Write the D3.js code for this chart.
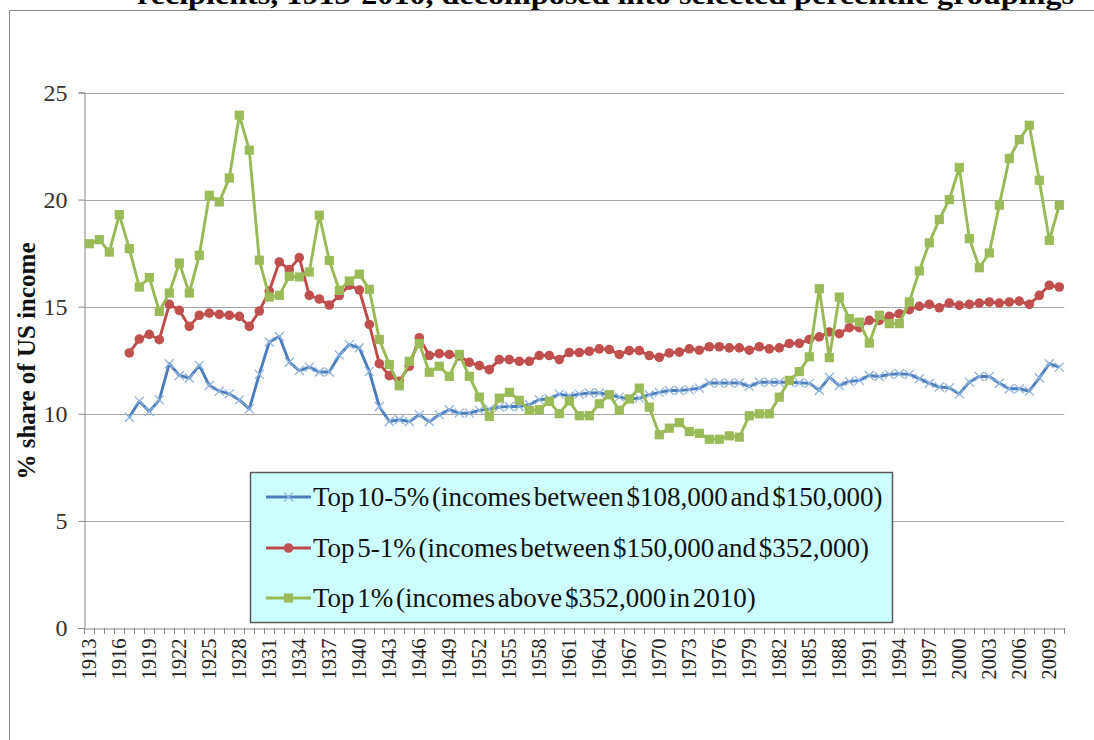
<!DOCTYPE html>
<html><head><meta charset="utf-8">
<script src="https://cdn.jsdelivr.net/npm/d3@7"></script>
<style>
html,body{margin:0;padding:0;background:#fff;overflow:hidden}
svg{display:block}
</style></head>
<body>
<svg id="chart" width="1094" height="740"></svg>
<script>
const years = d3.range(1913, 2011);
const yTicks = [0, 5, 10, 15, 20, 25];
const xLabelYears = d3.range(1913, 2011, 3);

const seriesNames = [
  "Top 10-5% (incomes between $108,000 and $150,000)",
  "Top 5-1% (incomes between $150,000 and $352,000)",
  "Top 1% (incomes above $352,000 in 2010)"
];

// Top 10-5%, 1913-2010 (null where no data)
const top10to5 = [null,null,null,null,
  9.84,10.59,10.11,10.65,12.34,11.79,11.67,12.26,11.32,11.06,10.93,10.65,10.23,11.84,13.35,13.61,12.41,12.02,12.18,11.95,11.95,12.75,
  13.23,13.08,11.98,10.34,9.64,9.72,9.64,9.95,9.64,9.95,10.19,10.03,10.03,10.16,10.22,10.31,10.34,10.34,10.42,10.66,10.69,10.92,
  10.83,10.92,10.97,10.97,10.89,10.78,10.69,10.73,10.89,11.0,11.09,11.09,11.13,11.2,11.44,11.44,11.44,11.44,11.28,11.47,11.47,11.47,
  11.47,11.45,11.42,11.1,11.71,11.32,11.51,11.56,11.79,11.74,11.84,11.87,11.84,11.64,11.43,11.25,11.21,10.93,11.48,11.74,11.74,11.43,
  11.17,11.17,11.06,11.68,12.34,12.18];

// Top 5-1%
const top5to1 = [null,null,null,null,
  12.84,13.49,13.71,13.46,15.11,14.83,14.08,14.6,14.7,14.64,14.6,14.55,14.08,14.8,15.73,17.09,16.73,17.29,15.53,15.36,15.08,15.52,
  16.0,15.78,14.17,12.34,11.78,11.52,12.22,13.55,12.72,12.81,12.77,12.7,12.4,12.25,12.06,12.53,12.53,12.45,12.45,12.72,12.72,12.53,
  12.86,12.86,12.92,13.03,13.0,12.77,12.95,12.95,12.72,12.64,12.84,12.88,13.03,12.97,13.13,13.13,13.08,13.08,12.97,13.13,13.03,13.08,
  13.28,13.29,13.47,13.59,13.82,13.74,14.02,14.02,14.36,14.36,14.55,14.67,14.86,15.02,15.11,14.95,15.17,15.06,15.11,15.17,15.22,15.17,
  15.22,15.26,15.11,15.53,16.0,15.92];

// Top 1%
const top1 = [17.94,18.13,17.55,19.3,17.71,15.92,16.36,14.78,15.64,17.04,15.64,17.4,20.2,19.89,21.01,23.94,22.31,17.17,15.45,15.53,
  16.42,16.39,16.62,19.27,17.16,15.76,16.2,16.52,15.81,13.47,12.3,11.31,12.45,13.28,11.94,12.22,11.75,12.77,11.75,10.78,
  9.88,10.73,11.0,10.63,10.16,10.19,10.58,10.01,10.6,9.91,9.91,10.47,10.89,10.16,10.69,11.2,10.31,9.02,9.33,9.59,
  9.17,9.09,8.81,8.81,8.97,8.91,9.91,10.0,10.0,10.78,11.56,11.97,12.66,15.84,12.62,15.45,14.44,14.28,13.3,14.6,
  14.21,14.21,15.22,16.67,17.98,19.07,20.0,21.5,18.18,16.82,17.51,19.74,21.92,22.8,23.47,20.9,18.1,19.74];

const colors = ["#4a7ebb", "#be4b48", "#98b954"];
const markerColors = ["#8fb3df", "#c0504d", "#9bbb59"];

const svg = d3.select("#chart");
const serif = "'Liberation Serif','Times New Roman',serif";

// frame
svg.append("rect").attr("x", 9.5).attr("y", 10.5).attr("width", 1200).attr("height", 800)
  .attr("fill", "none").attr("stroke", "#8c8c8c").attr("stroke-width", 1);

// cut-off title
svg.append("text").attr("x", 137).attr("y", 4)
  .attr("font-family", serif).attr("font-weight", "bold").attr("font-size", 27)
  .attr("textLength", 937).attr("lengthAdjust", "spacingAndGlyphs")
  .text("recipients, 1913-2010, decomposed into selected percentile groupings");

const x = d3.scaleBand().domain(years).range([84.3, 1064.3]).padding(0);
const y = d3.scaleLinear().domain([0, 25]).range([628, 92.5]);
const cx = yr => x(yr) + x.bandwidth() / 2;

// gridlines
svg.append("g").selectAll("line").data(yTicks.filter(d => d > 0)).join("line")
  .attr("x1", 84.3).attr("x2", 1064.3)
  .attr("y1", d => Math.round(y(d)) + 0.5).attr("y2", d => Math.round(y(d)) + 0.5)
  .attr("stroke", "#a6a6a6").attr("stroke-width", 1);

// y axis
const yAxis = svg.append("g").attr("transform", "translate(84.5,0)")
  .call(d3.axisLeft(y).tickValues(yTicks).tickSize(6).tickPadding(11).tickFormat(d3.format("d")));
yAxis.select(".domain").attr("stroke", "#868686");
yAxis.selectAll(".tick line").attr("stroke", "#868686");
yAxis.selectAll(".tick text").attr("font-family", serif).attr("font-size", 24).attr("fill", "#333");

// x axis
const xAxis = svg.append("g").attr("transform", "translate(0,628.5)")
  .call(d3.axisBottom(x).tickValues(xLabelYears).tickSize(0).tickPadding(0));
xAxis.select(".domain").attr("stroke", "#868686");
xAxis.selectAll(".tick text")
  .attr("font-family", serif).attr("font-size", 20.5).attr("fill", "#222")
  .attr("transform", "rotate(-90)").attr("text-anchor", "end")
  .attr("x", -10).attr("y", 0).attr("dy", "0.35em");
// minor tick marks at category boundaries
svg.append("g").selectAll("line").data(years.concat([2011])).join("line")
  .attr("x1", d => Math.round(d === 2011 ? 1064.3 : x(d)) + 0.5)
  .attr("x2", d => Math.round(d === 2011 ? 1064.3 : x(d)) + 0.5)
  .attr("y1", 628).attr("y2", 634).attr("stroke", "#868686");

// y axis title
svg.append("text").attr("transform", "translate(35,361) rotate(-90)")
  .attr("text-anchor", "middle").attr("font-family", serif).attr("font-weight", "bold")
  .attr("font-size", 25).attr("fill", "#111").text("% share of US income");

const data = [top10to5, top5to1, top1];
const line = d3.line().defined(d => d.v != null).x(d => cx(d.yr)).y(d => y(d.v));

function drawMarker(g, i, px, py) {
  if (i === 0) {
    const s = 4.5;
    g.append("path").attr("d", `M${px - s},${py - s}L${px + s},${py + s}M${px - s},${py + s}L${px + s},${py - s}`)
      .attr("stroke", markerColors[0]).attr("stroke-width", 1.3).attr("fill", "none");
  } else if (i === 1) {
    g.append("circle").attr("cx", px).attr("cy", py).attr("r", 4.8).attr("fill", markerColors[1]);
  } else {
    g.append("rect").attr("x", px - 4.6).attr("y", py - 4.6).attr("width", 9.2).attr("height", 9.2).attr("fill", markerColors[2]);
  }
}

data.forEach((arr, i) => {
  const pts = years.map((yr, k) => ({ yr, v: arr[k] }));
  const g = svg.append("g");
  g.append("path").datum(pts).attr("d", line).attr("fill", "none")
    .attr("stroke", colors[i]).attr("stroke-width", 2.9).attr("stroke-linejoin", "round");
  pts.filter(p => p.v != null).forEach(p => drawMarker(g, i, cx(p.yr), y(p.v)));
});

// legend
const lg = svg.append("g");
lg.append("rect").attr("x", 250.5).attr("y", 472.5).attr("width", 642).attr("height", 150)
  .attr("fill", "#ccffff").attr("stroke", "#595959").attr("stroke-width", 1.5);
const rowY = [497, 548, 598];
seriesNames.forEach((name, i) => {
  lg.append("line").attr("x1", 266).attr("x2", 311).attr("y1", rowY[i]).attr("y2", rowY[i])
    .attr("stroke", colors[i]).attr("stroke-width", 2.8);
  drawMarker(lg, i, 288.5, rowY[i]);
  lg.append("text").attr("x", 313).attr("y", rowY[i]).attr("dy", "0.35em")
    .attr("font-family", serif).attr("font-size", 27).attr("fill", "#111")
    .attr("word-spacing", -4).text(name);
});
</script>
</body></html>
